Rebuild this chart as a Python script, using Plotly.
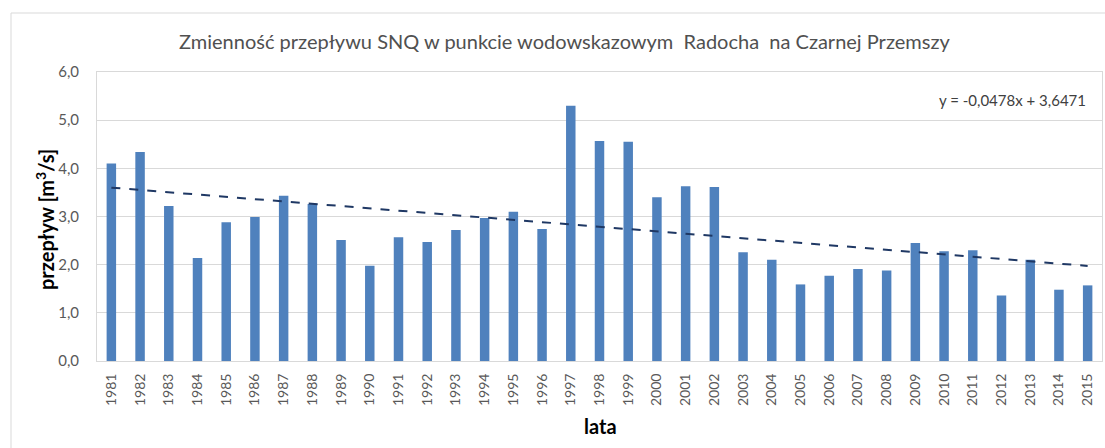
import plotly.graph_objects as go

# Annual SNQ flow, Radocha gauge on Czarna Przemsza
years = [str(y) for y in range(1981, 2016)]
snq = [4.10, 4.34, 3.22, 2.14, 2.88, 2.99, 3.43, 3.26, 2.51, 1.98,
       2.57, 2.47, 2.72, 2.97, 3.10, 2.74, 5.30, 4.57, 4.55, 3.40,
       3.63, 3.61, 2.26, 2.10, 1.59, 1.77, 1.91, 1.88, 2.45, 2.28,
       2.30, 1.36, 2.10, 1.48, 1.57]

# Linear trend coefficients (x = 1 .. n)
trend_slope = -0.0478
trend_intercept = 3.6471
trend = [trend_slope * (i + 1) + trend_intercept for i in range(len(years))]

y_ticks = [0, 1, 2, 3, 4, 5, 6]

W, H = 1105, 448
ML, MR, MT, MB = 97, 3, 72, 87
PW = W - ML - MR
PH = H - MT - MB


def px(x):
    return (x - ML) / PW


def py(y):
    return (H - MB - y) / PH


FONT = "Lato"
GRID = "#d9d9d9"

fig = go.Figure()
fig.add_trace(go.Bar(
    x=years, y=snq,
    marker=dict(color="#4f81bd", line=dict(width=0)),
    width=0.33,
    showlegend=False,
))
fig.add_trace(go.Scatter(
    x=years, y=trend, mode="lines",
    line=dict(color="#1f3864", width=2, dash="dash"),
    showlegend=False,
))

fig.update_layout(
    width=W, height=H,
    margin=dict(l=ML, r=MR, t=MT, b=MB),
    paper_bgcolor="white", plot_bgcolor="white",
    separators=", ",
    font=dict(family=FONT, color="#595959"),
    xaxis=dict(
        type="category", tickangle=-90,
        tickfont=dict(size=14, color="#595959"),
        showgrid=False, showline=True, linecolor=GRID, linewidth=1,
        mirror=True, ticks="", ticklabelstandoff=6,
    ),
    yaxis=dict(
        range=[0, 6], tickvals=y_ticks, tickformat=".1f",
        tickfont=dict(size=15, color="#595959"),
        showgrid=True, gridcolor=GRID, gridwidth=1,
        showline=True, linecolor=GRID, linewidth=1, mirror=True,
        zeroline=False, ticks="", ticklabelstandoff=14,
    ),
    shapes=[dict(
        type="rect", xref="paper", yref="paper",
        x0=px(11), x1=px(1112), y0=py(470), y1=py(13),
        line=dict(color="#d9d9d9", width=1), fillcolor="rgba(0,0,0,0)",
        layer="below",
    )],
    annotations=[
        dict(text="Zmienność przepływu SNQ w punkcie wodowskazowym  Radocha  na Czarnej Przemszy",
             xref="paper", yref="paper", x=px(564), y=py(41),
             xanchor="center", yanchor="middle", showarrow=False,
             font=dict(family=FONT, size=20, color="#505050")),
        dict(text="y = -0,0478x + 3,6471",
             xref="paper", yref="paper", x=px(1088), y=py(100),
             xanchor="right", yanchor="middle", showarrow=False,
             font=dict(family=FONT, size=15, color="#404040")),
        dict(text="<b>przepływ [m<sup>3</sup>/s]</b>",
             xref="paper", yref="paper", x=px(45), y=py(220),
             xanchor="center", yanchor="middle", showarrow=False,
             textangle=-90,
             font=dict(family=FONT, size=20, color="#000000")),
        dict(text="<b>lata</b>",
             xref="paper", yref="paper", x=px(600), y=py(426),
             xanchor="center", yanchor="middle", showarrow=False,
             font=dict(family=FONT, size=20, color="#000000")),
    ],
)

fig.write_html("out.html")
